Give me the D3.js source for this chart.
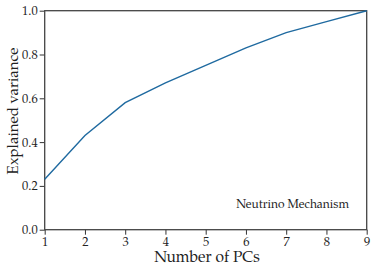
<!DOCTYPE html>
<html>
<head>
<meta charset="utf-8">
<script src="https://cdn.jsdelivr.net/npm/d3@7"></script>
<style>
  html, body { margin: 0; padding: 0; background: #fff; }
  svg { display: block; }
  text { font-family: 'Palatino Linotype', Palatino, 'TeX Gyre Pagella', 'Liberation Serif', serif; }
</style>
</head>
<body>
<svg id="chart"></svg>
<script>
// cumulative explained variance vs number of PCs
const nPCs      = [1, 2, 3, 4, 5, 6, 7, 8, 9];
const explained = [0.23, 0.43, 0.58, 0.67, 0.75, 0.83, 0.90, 0.95, 1.0];
const yTicks    = [0.0, 0.2, 0.4, 0.6, 0.8, 1.0];
const label     = 'Neutrino Mechanism';

const W = 374, H = 267;
const m = { top: 10.7, right: 7.3, bottom: 37.3, left: 44.7 };

const svg = d3.select('#chart').attr('width', W).attr('height', H);

const x = d3.scaleLinear().domain([1, 9]).range([m.left, W - m.right]);
const y = d3.scaleLinear().domain([0, 1]).range([H - m.bottom, m.top]);

// ── axes ───────────────────────────────────────────
const xAxis = svg.append('g')
    .attr('transform', `translate(0,${H - m.bottom})`)
    .call(d3.axisBottom(x).tickValues(nPCs).tickSize(5).tickPadding(2).tickFormat(d3.format('d')));

const yAxis = svg.append('g')
    .attr('transform', `translate(${m.left},0)`)
    .call(d3.axisLeft(y).tickValues(yTicks).tickSize(5).tickPadding(2).tickFormat(d3.format('.1f')));

[xAxis, yAxis].forEach(g => {
    g.select('.domain').remove();
    g.selectAll('line').attr('stroke', '#333').attr('stroke-width', 1);
    g.selectAll('text').attr('fill', '#222').attr('font-size', '12.5px');
});

// frame
svg.append('rect')
    .attr('x', m.left).attr('y', m.top)
    .attr('width', W - m.left - m.right).attr('height', H - m.top - m.bottom)
    .attr('fill', 'none').attr('stroke', '#444').attr('stroke-width', 1.3);

// ── line ───────────────────────────────────────────
svg.append('path')
    .datum(nPCs.map((d, i) => [d, explained[i]]))
    .attr('fill', 'none')
    .attr('stroke', '#1f6aa0')
    .attr('stroke-width', 1.4)
    .attr('d', d3.line().x(d => x(d[0])).y(d => y(d[1])));

// ── labels ─────────────────────────────────────────
svg.append('text')
    .attr('x', 207).attr('y', 262)
    .attr('text-anchor', 'middle').attr('font-size', '15.5px').attr('fill', '#222')
    .text('Number of PCs');

svg.append('text')
    .attr('transform', `translate(17.5,111) rotate(-90)`)
    .attr('text-anchor', 'middle').attr('font-size', '15px').attr('fill', '#222')
    .text('Explained variance');

svg.append('text')
    .attr('x', 349).attr('y', 208)
    .attr('text-anchor', 'end').attr('font-size', '12px').attr('fill', '#222')
    .text(label);
</script>
</body>
</html>
